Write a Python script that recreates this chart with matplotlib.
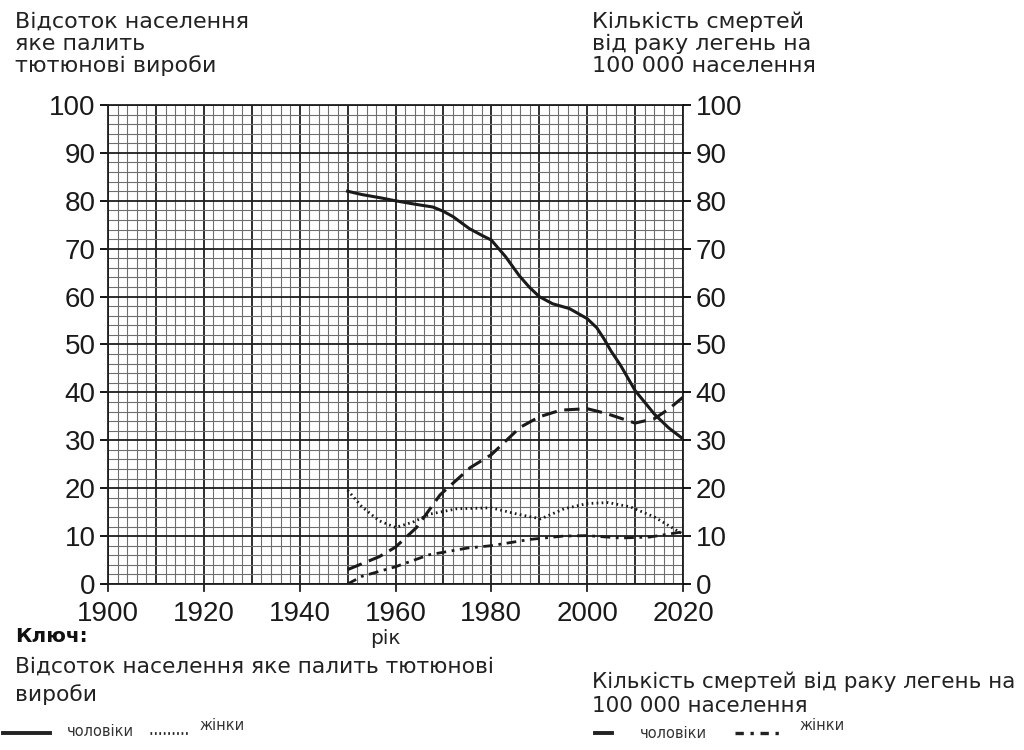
import matplotlib
matplotlib.use("Agg")
import matplotlib.pyplot as plt
from matplotlib.ticker import MultipleLocator

# відсоток курців, чоловіки (суцільна)
men_smoke_years = [1950, 1953, 1957, 1960, 1964, 1967.8, 1970, 1972, 1975.4, 1978, 1980,
                   1983, 1985.8, 1987.9, 1990, 1992.8, 1996.3, 2000, 2002, 2003.5, 2005,
                   2007, 2010, 2014, 2017, 2020]
men_smoke = [82, 81.3, 80.6, 80, 79.3, 78.7, 77.8, 76.7, 74.2, 72.8, 71.8,
             68.3, 64.4, 62, 60, 58.5, 57.5, 55.4, 53.5, 51.2, 48.6,
             45.6, 40.4, 35.5, 32.6, 30.3]

# відсоток курців, жінки (пунктир)
women_smoke_years = [1950, 1953, 1956.6, 1960, 1963.6, 1967.2, 1972.8, 1980, 1985.4,
                     1990.3, 1995.2, 2000, 2004.4, 2009, 2014, 2020]
women_smoke = [19.6, 16.1, 13.2, 11.8, 12.9, 14.6, 15.7, 15.9, 14.6,
               13.6, 15.7, 16.8, 17, 16.1, 14, 10.4]

# смертність, чоловіки (штрихова)
men_death_years = [1950, 1956.6, 1960, 1964.4, 1969.3, 1975.6, 1980, 1986, 1990,
                   1994.5, 2000, 2004, 2010, 2014, 2017, 2020]
men_death = [3, 5.7, 7.7, 11.8, 18.6, 24.3, 27, 32.7, 34.9,
             36.3, 36.6, 35.6, 33.6, 34.5, 36.5, 39]

# смертність, жінки (штрих-пунктир)
women_death_years = [1950, 1953, 1960, 1967, 1975, 1980, 1988, 1995, 2000, 2007, 2013, 2020]
women_death = [0, 1.6, 3.6, 6.1, 7.5, 8, 9.3, 10, 10.1, 9.6, 9.8, 10.9]

x_ticks = [1900, 1920, 1940, 1960, 1980, 2000, 2020]
y_ticks = [0, 10, 20, 30, 40, 50, 60, 70, 80, 90, 100]

fig = plt.figure(figsize=(10.24, 7.5), dpi=100)
ax = fig.add_axes([108 / 1024, 166 / 750, 575 / 1024, 479 / 750])

ax.set_xlim(1900, 2020)
ax.set_ylim(0, 100)
ax.xaxis.set_minor_locator(MultipleLocator(2))
ax.yaxis.set_minor_locator(MultipleLocator(2))

tick_font = dict(family="Liberation Sans", size=20, color="#1a1a1a")
decades = list(range(1900, 2021, 10))
ax.set_xticks(decades)
ax.set_xticklabels([str(t) if t in x_ticks else "" for t in decades], **tick_font)
ax.set_yticks(y_ticks, [str(t) for t in y_ticks], **tick_font)

ax.grid(which="minor", color="#6e6e6e", linewidth=0.8)
ax.grid(which="major", color="#1e1e1e", linewidth=1.3)
ax.set_axisbelow(True)
ax.tick_params(which="minor", length=0)
ax.tick_params(axis="y", which="major", length=6, width=1.3, pad=3)
ax.tick_params(axis="x", which="major", length=0, pad=12)
for s in ax.spines.values():
    s.set_color("#1e1e1e")
    s.set_linewidth(1.3)

ax2 = ax.twinx()
ax2.set_ylim(0, 100)
ax2.set_yticks(y_ticks, [str(t) for t in y_ticks], **tick_font)
ax2.tick_params(axis="y", length=6, width=1.3, pad=3)
for s in ax2.spines.values():
    s.set_visible(False)

# маленькі риски на осі років
for t in x_ticks:
    ax.plot([t, t], [0, -1.4], color="#1e1e1e", linewidth=1.3, clip_on=False)

ax.plot(men_smoke_years, men_smoke, color="#1a1a1a", linewidth=2.2)
ax.plot(women_smoke_years, women_smoke, color="#1a1a1a", linewidth=2.0, linestyle=(0, (0.6, 1.2)))
ax.plot(men_death_years, men_death, color="#1a1a1a", linewidth=2.2, linestyle=(0, (5, 2.5)))
ax.plot(women_death_years, women_death, color="#1a1a1a", linewidth=2.0,
        linestyle=(0, (3.5, 2, 1, 2)))

title_font = dict(family="DejaVu Sans", size=16, color="#222222", linespacing=1.1)
fig.text(15 / 1024, 1 - 12 / 750, "Відсоток населення\nяке палить\nтютюнові вироби",
         ha="left", va="top", **title_font)
fig.text(592 / 1024, 1 - 12 / 750, "Кількість смертей\nвід раку легень на\n100 000 населення",
         ha="left", va="top", **title_font)

fig.text(15 / 1024, 1 - 637 / 750, "Ключ:", ha="left", va="center",
         family="DejaVu Sans", size=14.5, weight="bold", color="#111111")
fig.text(370 / 1024, 1 - 638 / 750, "рік", ha="left", va="center",
         family="DejaVu Sans", size=14.5, color="#222222")
fig.text(15 / 1024, 1 - 657 / 750, "Відсоток населення яке палить тютюнові\nвироби",
         ha="left", va="top", family="DejaVu Sans", size=15.7, color="#222222", linespacing=1.45)
fig.text(592 / 1024, 1 - 671 / 750, "Кількість смертей від раку легень на\n100 000 населення",
         ha="left", va="top", family="DejaVu Sans", size=15.5, color="#222222", linespacing=1.3)

# ключ (легенда) внизу
leg = fig.add_axes([0, 0, 1, 1], facecolor="none")
leg.set_xlim(0, 1024)
leg.set_ylim(750, 0)
leg.axis("off")
leg.plot([3, 50], [733, 733], color="#222222", linewidth=2.8)
leg.plot([150, 188], [733, 733], color="#222222", linewidth=2.0, linestyle=(0, (0.6, 1.0)))
leg.plot([595, 612], [733, 733], color="#222222", linewidth=2.8)
leg.plot([735, 782], [733, 733], color="#222222", linewidth=2.4, linestyle=(0, (2.5, 2, 1, 2)))
small = dict(family="DejaVu Sans", size=10.5, color="#333333", va="center", ha="left")
leg.text(67, 731, "чоловіки", **small)
leg.text(200, 726, "жінки", **small)
leg.text(640, 733, "чоловіки", **small)
leg.text(800, 726, "жінки", **small)

fig.savefig("out.png", dpi=100, facecolor="white")
